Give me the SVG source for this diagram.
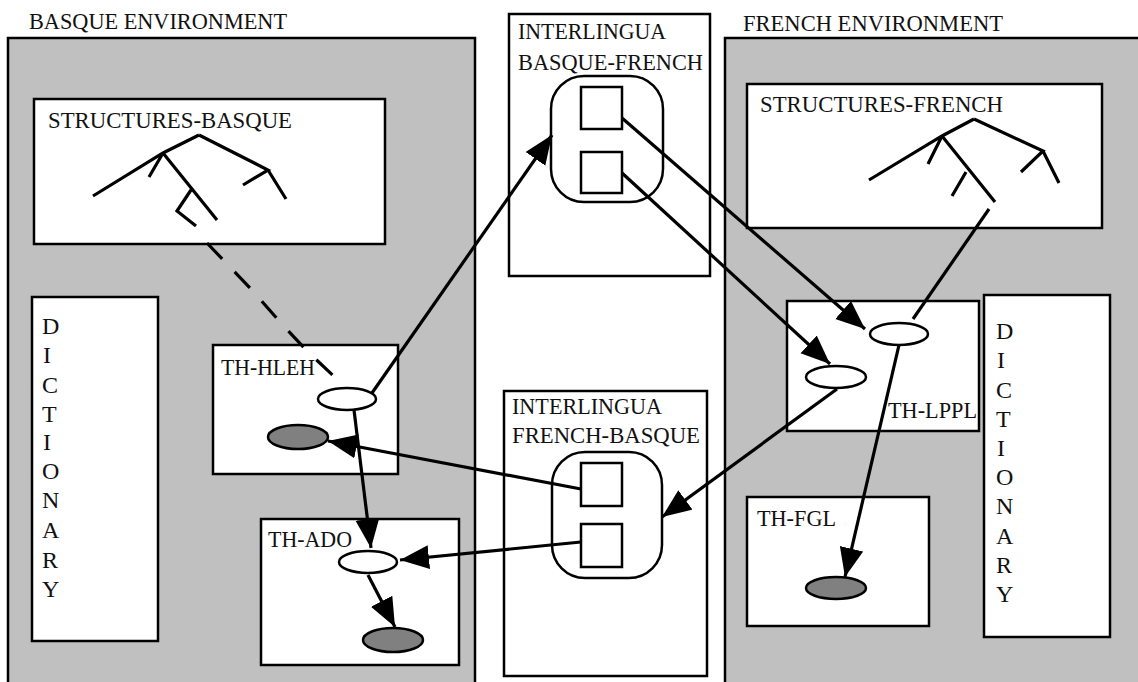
<svg xmlns="http://www.w3.org/2000/svg" width="1138" height="682" viewBox="0 0 1138 682">
<style>
.t{font-family:"Liberation Serif","Times New Roman",serif;font-size:24px;fill:#111}
.env{fill:#c0c0c0;stroke:#000;stroke-width:2.5}
.box{fill:#fff;stroke:#000;stroke-width:2.5}
.wel{fill:#fff;stroke:#000;stroke-width:2.5}
.gel{fill:#808080;stroke:#000;stroke-width:2.5}
.tree{fill:none;stroke:#000;stroke-width:3.2;stroke-linecap:butt}
.con{fill:none;stroke:#000;stroke-width:3.2}
.arr{marker-end:url(#ah)}
.dash{stroke-dasharray:22 18}
</style>
<defs>
<marker id="ah" markerUnits="userSpaceOnUse" markerWidth="32" markerHeight="26" refX="29" refY="12" viewBox="0 0 32 26" orient="auto">
<path d="M0,0 L29,12 L0,24 z" fill="#000"/>
</marker>
</defs>
<rect width="1138" height="682" fill="#fff"/>

<g id="basque-env">
<text class="t" x="29" y="29" textLength="258" lengthAdjust="spacingAndGlyphs">BASQUE ENVIRONMENT</text>
<rect class="env" x="8" y="38" width="467" height="660"/>
</g>
<g id="french-env">
<text class="t" x="743" y="31" textLength="260" lengthAdjust="spacingAndGlyphs">FRENCH ENVIRONMENT</text>
<rect class="env" x="725" y="38" width="430" height="660"/>
</g>

<g id="structures-basque">
<rect class="box" x="34" y="99" width="351" height="145"/>
<text class="t" x="48" y="128" textLength="244" lengthAdjust="spacingAndGlyphs">STRUCTURES-BASQUE</text>
<path class="tree" d="M199,135 L163,153 L93,196 M163,153 L149,177 M163,153 L217,220 M191,190 L177,211 L196,226 M199,135 L268,170 L243,185 M268,170 L286,199"/>
</g>

<g id="structures-french">
<rect class="box" x="747" y="84" width="355" height="144"/>
<text class="t" x="760" y="112" textLength="243" lengthAdjust="spacingAndGlyphs">STRUCTURES-FRENCH</text>
<path class="tree" d="M974,119 L942,136 L869,180 M942,136 L928,164 M942,136 L995,202 M966,172 L952,196 M974,119 L1043,151 L1021,172 M1043,151 L1059,183"/>
</g>

<g id="dictionary-basque">
<rect class="box" x="32" y="297" width="126" height="344"/>
<text class="t" x="42" y="334">D</text>
<text class="t" x="43" y="363">I</text>
<text class="t" x="42" y="393">C</text>
<text class="t" x="42" y="422">T</text>
<text class="t" x="43" y="450">I</text>
<text class="t" x="42" y="479">O</text>
<text class="t" x="42" y="508">N</text>
<text class="t" x="42" y="538">A</text>
<text class="t" x="42" y="568">R</text>
<text class="t" x="42" y="597">Y</text>
</g>

<g id="dictionary-french">
<rect class="box" x="984" y="295" width="126" height="342"/>
<text class="t" x="996" y="339">D</text>
<text class="t" x="997" y="368">I</text>
<text class="t" x="996" y="398">C</text>
<text class="t" x="996" y="427">T</text>
<text class="t" x="997" y="456">I</text>
<text class="t" x="996" y="485">O</text>
<text class="t" x="996" y="514">N</text>
<text class="t" x="996" y="544">A</text>
<text class="t" x="996" y="573">R</text>
<text class="t" x="996" y="602">Y</text>
</g>

<g id="interlingua-bf">
<rect class="box" x="509" y="14" width="201" height="262"/>
<text class="t" x="518" y="39" textLength="148" lengthAdjust="spacingAndGlyphs">INTERLINGUA</text>
<text class="t" x="518" y="70" textLength="185" lengthAdjust="spacingAndGlyphs">BASQUE-FRENCH</text>
<rect class="wel" x="551" y="76" width="112" height="126" rx="33" ry="33"/>
<rect class="wel" x="581" y="87" width="41" height="42"/>
<rect class="wel" x="581" y="152" width="41" height="41"/>
</g>

<g id="interlingua-fb">
<rect class="box" x="504" y="391" width="203" height="285"/>
<text class="t" x="512" y="414" textLength="150" lengthAdjust="spacingAndGlyphs">INTERLINGUA</text>
<text class="t" x="512" y="443" textLength="188" lengthAdjust="spacingAndGlyphs">FRENCH-BASQUE</text>
<rect class="wel" x="552" y="452" width="110" height="126" rx="33" ry="33"/>
<rect class="wel" x="581" y="463" width="41" height="43"/>
<rect class="wel" x="581" y="524" width="41" height="43"/>
</g>

<g id="th-hleh">
<rect class="box" x="213" y="345" width="185" height="129"/>
<text class="t" x="221" y="375" textLength="94" lengthAdjust="spacingAndGlyphs">TH-HLEH</text>
<ellipse class="wel" cx="347" cy="399" rx="29" ry="11"/>
<ellipse class="gel" cx="298" cy="437" rx="30" ry="12"/>
</g>

<g id="th-ado">
<rect class="box" x="261" y="519" width="198" height="146"/>
<text class="t" x="268" y="547" textLength="84" lengthAdjust="spacingAndGlyphs">TH-ADO</text>
<ellipse class="wel" cx="368" cy="562" rx="29" ry="11"/>
<ellipse class="gel" cx="393" cy="640" rx="30" ry="12"/>
</g>

<g id="th-lppl">
<rect class="box" x="787" y="301" width="192" height="130"/>
<text class="t" x="888" y="418" textLength="89" lengthAdjust="spacingAndGlyphs">TH-LPPL</text>
<ellipse class="wel" cx="899" cy="334" rx="29" ry="11"/>
<ellipse class="wel" cx="836" cy="377" rx="30" ry="11"/>
</g>

<g id="th-fgl">
<rect class="box" x="747" y="497" width="182" height="129"/>
<text class="t" x="757" y="526" textLength="79" lengthAdjust="spacingAndGlyphs">TH-FGL</text>
<ellipse class="gel" cx="836" cy="588" rx="30" ry="11"/>
</g>

<g id="connectors">
<path class="con arr" d="M372,393 L552,135"/>
<path class="con arr" d="M622,118 L865,329"/>
<path class="con arr" d="M622,173 L830,364"/>
<path class="con arr" d="M581,489 L328,441"/>
<path class="con arr" d="M581,542 L400,560"/>
<path class="con arr" d="M837,389 L662,517"/>
<path class="con arr" d="M899,345 L845,577"/>
<path class="con arr" d="M354,410 L371,548"/>
<path class="con arr" d="M368,575 L395,627"/>
<path class="con" d="M989,209 L913,319"/>
<path class="con dash" d="M207,243 L251,289 L280,322 L307,351 L339,381"/>
</g>
</svg>
